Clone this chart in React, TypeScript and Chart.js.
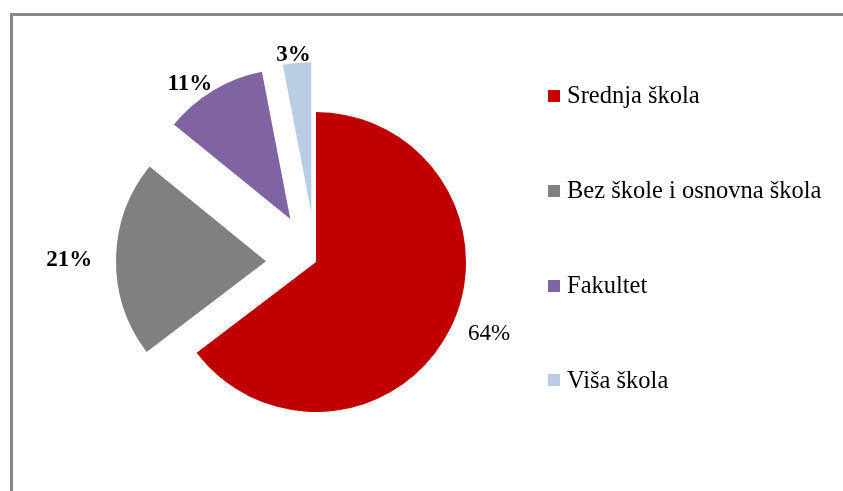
import React, { useEffect, useRef } from "react";
import { Chart, registerables } from "chart.js";

Chart.register(...registerables);

const categories = ["Srednja škola", "Bez škole i osnovna škola", "Fakultet", "Viša škola"];
const values = [64, 21, 11, 3];
const colors = ["#C00000", "#808080", "#8064A2", "#B9CDE5"];
const explodeOffsets = [0, 50, 50, 50];
const labelWeights = ["normal", "bold", "bold", "bold"];

const FONT = '"Liberation Serif", "Times New Roman", serif';

const explodePlugin = {
  id: "explodeSlices",
  beforeDatasetDraw(chart: any, args: any) {
    const ctx = chart.ctx;
    args.meta.data.forEach((arc: any, i: number) => {
      const { startAngle, endAngle } = arc.getProps(["startAngle", "endAngle"], true);
      const mid = (startAngle + endAngle) / 2;
      const o = explodeOffsets[i] || 0;
      ctx.save();
      ctx.translate(Math.cos(mid) * o, Math.sin(mid) * o);
      arc.draw(ctx);
      ctx.restore();
    });
    return false;
  },
};

const labelPlugin = {
  id: "sliceLabels",
  afterDatasetsDraw(chart: any) {
    const ctx = chart.ctx;
    const meta = chart.getDatasetMeta(0);
    const data = chart.data.datasets[0].data as number[];
    ctx.save();
    ctx.fillStyle = "#000";
    ctx.textAlign = "center";
    ctx.textBaseline = "alphabetic";
    const size = 23;
    const gap = 3;
    meta.data.forEach((arc: any, i: number) => {
      const { x, y, startAngle, endAngle, outerRadius } = arc.getProps(
        ["x", "y", "startAngle", "endAngle", "outerRadius"],
        true
      );
      const mid = (startAngle + endAngle) / 2;
      const dx = Math.cos(mid);
      const dy = Math.sin(mid);
      const o = explodeOffsets[i] || 0;
      ctx.font = `${labelWeights[i]} ${size}px ${FONT}`;
      const text = `${data[i]}%`;
      const hw = ctx.measureText(text).width / 2;
      const capHalf = size * 0.33;
      const d = o + outerRadius + gap;
      const cx = x + dx * d + dx * hw * 1.9;
      const cy = y + dy * d + dy * 6.5;
      ctx.fillText(text, cx, cy + capHalf);
    });
    ctx.restore();
  },
};

export default function App() {
  const canvasRef = useRef<HTMLCanvasElement | null>(null);

  useEffect(() => {
    if (!canvasRef.current) return;
    const chart = new Chart(canvasRef.current, {
      type: "pie",
      data: {
        labels: categories,
        datasets: [
          {
            data: values,
            backgroundColor: colors,
            borderWidth: 0,
          },
        ],
      },
      options: {
        animation: false,
        responsive: false,
        devicePixelRatio: 1,
        radius: 150,
        layout: { padding: { left: 0, right: 211, top: 33, bottom: 0 } },
        plugins: {
          legend: { display: false },
          tooltip: { enabled: false },
        },
      } as any,
      plugins: [explodePlugin, labelPlugin],
    });
    return () => chart.destroy();
  }, []);

  return (
    <div
      style={{
        position: "absolute",
        left: 0,
        top: 0,
        width: 843,
        height: 491,
        overflow: "hidden",
        background: "#fff",
      }}
    >
      <div
        style={{
          position: "absolute",
          left: 10,
          top: 13,
          width: 900,
          height: 600,
          borderLeft: "3px solid #898989",
          borderTop: "3px solid #898989",
          boxSizing: "border-box",
        }}
      />
      <canvas
        ref={canvasRef}
        width={843}
        height={491}
        style={{ position: "absolute", left: 0, top: 0, width: 843, height: 491 }}
      />
      {categories.map((c, i) => (
        <React.Fragment key={c}>
          <div
            style={{
              position: "absolute",
              left: 548,
              top: 90 + i * 94.8,
              width: 12,
              height: 12,
              background: colors[i],
            }}
          />
          <div
            style={{
              position: "absolute",
              left: 567,
              top: 83 + i * 95,
              fontFamily: FONT,
              fontSize: 24.5,
              lineHeight: "24px",
              color: "#000",
              whiteSpace: "nowrap",
            }}
          >
            {c}
          </div>
        </React.Fragment>
      ))}
    </div>
  );
}
